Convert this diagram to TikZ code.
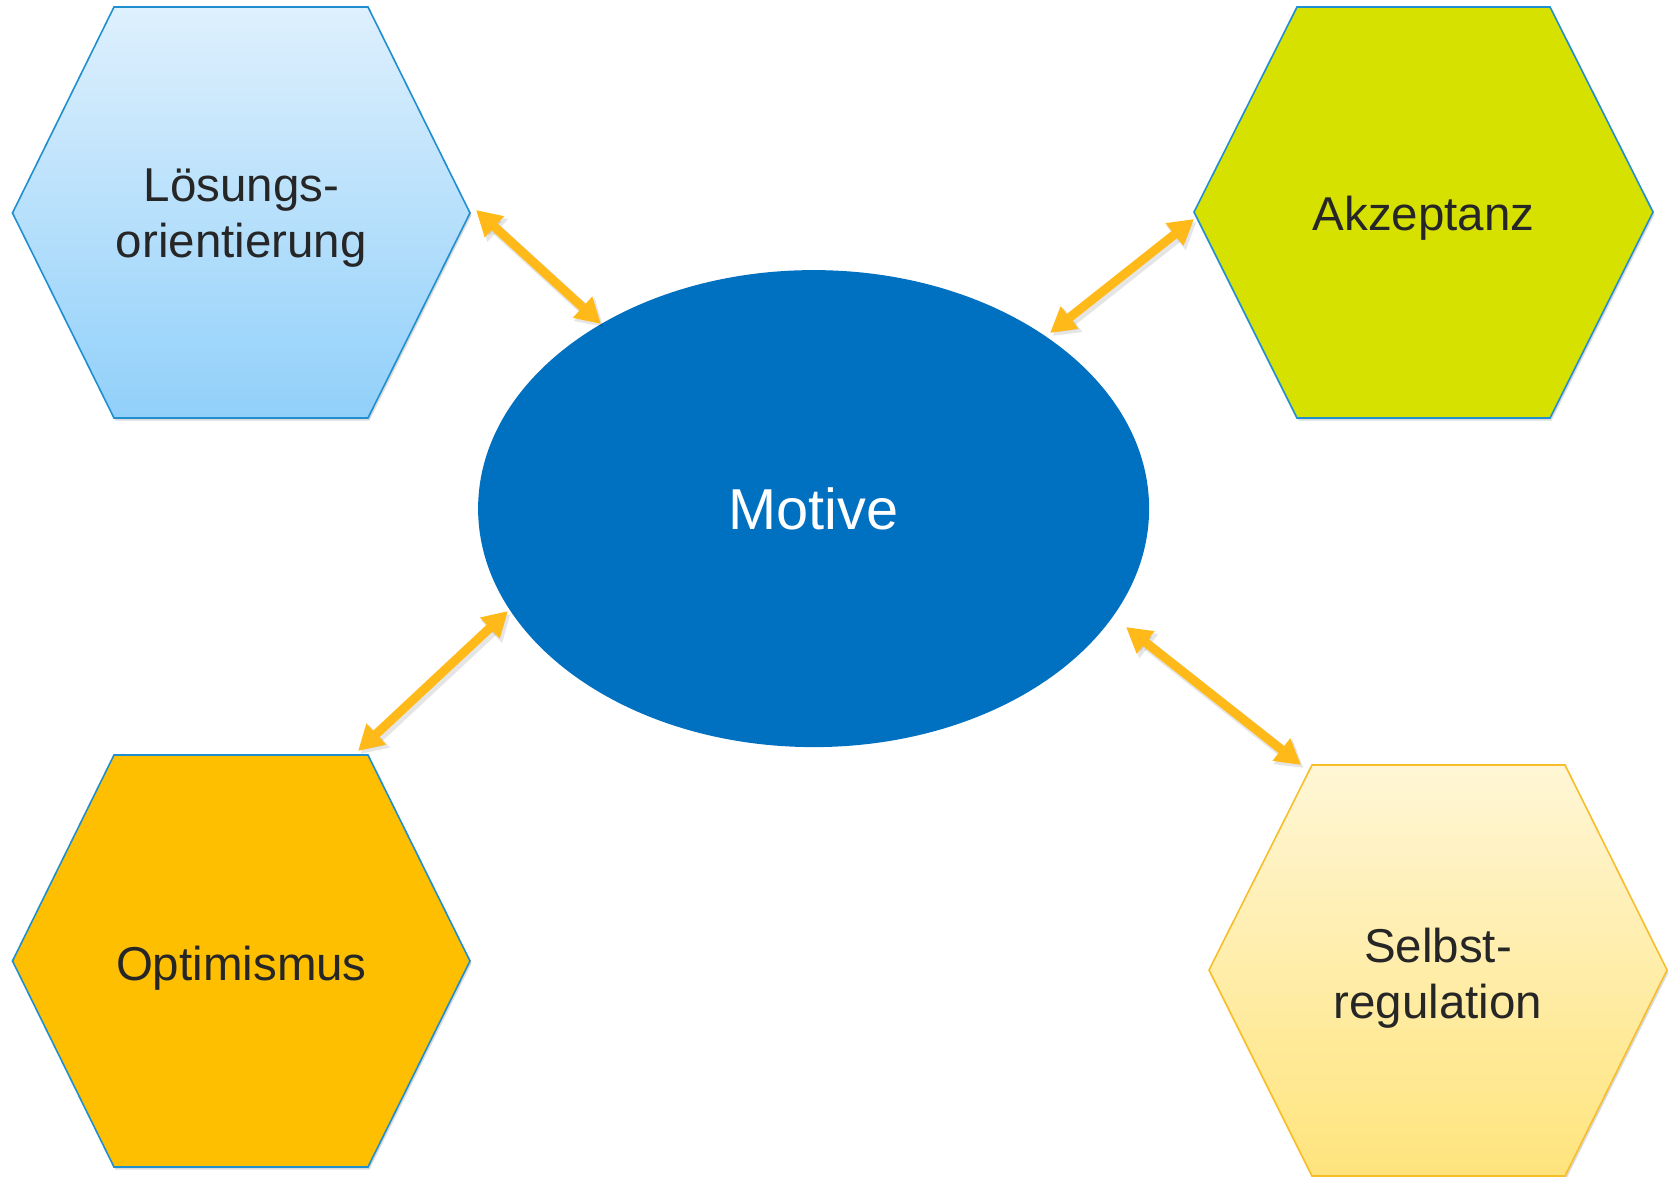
\documentclass[tikz,border=0pt]{standalone}
\usepackage{fontspec}
\setmainfont{Liberation Sans}
\usetikzlibrary{arrows.meta,shapes.geometric}
\definecolor{txtc}{HTML}{262626}
\definecolor{hexblue}{HTML}{1F8FD0}
\definecolor{hexgold}{HTML}{F8BE2A}
\definecolor{lbtop}{HTML}{DEF0FD}
\definecolor{lbbot}{HTML}{91D0FA}
\definecolor{lime}{HTML}{D7E100}
\definecolor{amber}{HTML}{FDBF00}
\definecolor{ytop}{HTML}{FFF6D6}
\definecolor{ybot}{HTML}{FFE47C}
\definecolor{motiveblue}{HTML}{0070C0}
\definecolor{arrowc}{HTML}{FFBA1A}
\begin{document}
\begin{tikzpicture}[x=1pt,y=-1pt,
  hexbox/.style={line width=1.6pt, line join=miter},
  hexshadow/.style={fill=black, opacity=0.14, transform canvas={xshift=1.5pt,yshift=-2.5pt}},
  lbl/.style={text=txtc, font=\fontsize{47.5}{56}\selectfont, align=center, inner sep=0pt},
  conn/.style={line width=9pt, draw=arrowc, {Triangle[length=25pt,width=27pt]}-{Triangle[length=25pt,width=27pt]}},
  connshadow/.style={line width=11pt, draw=black, opacity=0.10, transform canvas={xshift=2.5pt,yshift=-3pt}, {Triangle[length=26pt,width=29pt]}-{Triangle[length=26pt,width=29pt]}}
]
\useasboundingbox (0,0) rectangle (1672,1177);
\fill[white] (0,0) rectangle (1672,1177);

% top-left hexagon
\fill[hexshadow] (12.5,213) -- (114,7) -- (368,7) -- (470,213) -- (368,418) -- (114,418) -- cycle;
\path[hexbox, draw=hexblue, top color=lbtop, bottom color=lbbot]
  (12.5,213) -- (114,7) -- (368,7) -- (470,213) -- (368,418) -- (114,418) -- cycle;
% top-right hexagon
\fill[hexshadow] (1194,212) -- (1297,7) -- (1550,7) -- (1653,212) -- (1550,418) -- (1297,418) -- cycle;
\path[hexbox, draw=hexblue, fill=lime]
  (1194,212) -- (1297,7) -- (1550,7) -- (1653,212) -- (1550,418) -- (1297,418) -- cycle;
% bottom-left hexagon
\fill[hexshadow] (12.5,961) -- (114,755) -- (368,755) -- (470,961) -- (368,1167) -- (114,1167) -- cycle;
\path[hexbox, draw=hexblue, fill=amber]
  (12.5,961) -- (114,755) -- (368,755) -- (470,961) -- (368,1167) -- (114,1167) -- cycle;
% bottom-right hexagon
\fill[hexshadow] (1209,970) -- (1312,765) -- (1565,765) -- (1667,970) -- (1565,1176) -- (1312,1176) -- cycle;
\path[hexbox, draw=hexgold, top color=ytop, bottom color=ybot]
  (1209,970) -- (1312,765) -- (1565,765) -- (1667,970) -- (1565,1176) -- (1312,1176) -- cycle;

% labels
\node[lbl] (loes) at (241.4,218.5) {Lösungs-\\orientierung};
\node[lbl, anchor=base] (akz) at (1423.5,230) {Akzeptanz};
\node[lbl, anchor=base] (opt) at (241.4,980) {Optimismus};
\node[lbl] (selbst) at (1438,978.5) {Selbst-\\regulation};

% central ellipse
\node[ellipse, fill=motiveblue, minimum width=671pt, minimum height=477pt, inner sep=0pt,
      text=white, font=\fontsize{57.7}{66}\selectfont] (m) at (813.6,508.6) {Motive};

% connector end points
\coordinate (loesE) at (476,210);
\coordinate (akzE) at (1194,219);
\coordinate (optE) at (358,751);
\coordinate (selbstE) at (1301,765);
\coordinate (mTL) at (601,324);
\coordinate (mTR) at (1050,333);
\coordinate (mBL) at (508,611);
\coordinate (mBR) at (1126,627);

% connectors
\foreach \a/\b in {loesE/mTL, akzE/mTR, optE/mBL, selbstE/mBR}{
  \draw[connshadow] (\a) -- (\b);
  \draw[conn] (\a) -- (\b);
}
\end{tikzpicture}
\end{document}
